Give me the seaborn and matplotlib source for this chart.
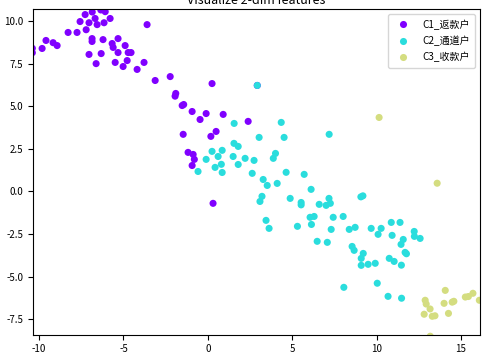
import matplotlib
matplotlib.use("Agg")
import matplotlib.pyplot as plt
import numpy as np
import pandas as pd
import seaborn as sns

labels = ['C1_返款户', 'C2_通道户', 'C3_收款户']
colors = ['#8000ff', '#2adddd', '#d4dd80']

c1_x = [-10.4, -10.4, -9.82, -9.59, -9.17, -8.93, -8.28, -7.75, -7.57, -7.27,
        -7.04, -6.85, -6.68, -6.56, -6.34, -6.15, -6.08, -5.79, -7.21, -6.86,
        -6.86, -6.21, -7.04, -6.32, -6.62, -5.67, -5.61, -5.32, -5.32, -4.90,
        -4.72, -4.55, -4.78, -5.49, -5.02, -4.19, -3.78, -3.60, -3.12, -2.23,
        -1.90, -1.94, -1.43, -1.52, -0.93, -0.10, -0.46, 0.91, 0.25, 2.93,
        2.39, -1.46, 0.49, 0.18, -1.17, -0.87, -0.80, -0.93, 0.31]
c1_y = [8.40, 8.14, 8.39, 8.86, 8.73, 8.56, 9.33, 9.33, 9.97, 10.38,
        9.90, 10.53, 10.15, 9.79, 10.65, 9.90, 10.55, 10.15, 9.49, 8.97,
        8.80, 8.91, 8.04, 8.09, 7.50, 8.68, 8.45, 8.97, 8.15, 8.56,
        8.15, 8.15, 7.68, 7.57, 7.33, 7.16, 7.57, 9.79, 6.51, 6.74,
        5.75, 5.59, 5.10, 5.04, 4.69, 4.57, 4.22, 4.52, 6.33, 6.22,
        4.11, 3.35, 3.52, 3.23, 2.29, 2.17, 1.88, 1.52, -0.70]

c2_x = [2.93, 1.56, 4.35, 3.04, 4.52, 7.19, 1.55, 1.80, 0.25, 0.85,
        0.61, -0.10, 1.50, 2.21, 2.74, 0.80, 1.80, 0.43, 0.85, -0.58,
        2.63, 4.01, 3.88, 4.64, 5.71, 3.28, 3.52, 4.11, 6.12, 4.88,
        3.21, 3.09, 5.53, 5.53, 6.60, 7.18, 7.01, 7.26, 9.07, 9.19,
        3.45, 3.63, 5.31, 6.06, 6.30, 6.14, 7.43, 8.02, 7.31, 6.48,
        7.08, 8.38, 8.73, 9.68, 10.27, 10.09, 10.87, 11.39, 10.92, 11.58,
        11.45, 12.23, 12.58, 12.24, 8.55, 8.67, 11.69, 11.77, 9.21, 9.09,
        9.09, 9.50, 9.92, 10.75, 11.04, 11.47, 8.06, 10.04, 10.68, 11.48]
c2_y = [6.22, 3.99, 4.05, 3.17, 3.17, 3.35, 2.82, 2.64, 2.35, 2.41,
        2.05, 1.88, 2.05, 1.94, 1.82, 1.59, 1.58, 1.41, 1.11, 1.17,
        1.06, 2.23, 1.94, 1.12, 1.00, 0.70, 0.35, 0.47, 0.12, -0.41,
        -0.29, -0.59, -0.65, -0.79, -0.76, -0.41, -0.82, -0.70, -0.32, -0.26,
        -1.70, -2.17, -2.05, -1.52, -1.47, -1.94, -1.52, -1.47, -2.23, -2.93,
        -2.99, -2.23, -2.11, -2.17, -2.17, -2.52, -1.82, -1.82, -2.58, -2.82,
        -3.11, -2.35, -2.76, -2.64, -3.23, -3.46, -3.58, -3.66, -3.64, -3.93,
        -4.34, -4.28, -4.22, -3.93, -4.11, -4.33, -5.63, -5.39, -6.16, -6.27]

c3_x = [10.15, 13.59, 14.07, 14.00, 14.48, 14.58, 14.26, 15.26, 15.44, 15.71,
        16.09, 12.88, 12.94, 13.17, 12.82, 13.30, 13.46, 13.18]
c3_y = [4.34, 0.48, -5.81, -6.57, -6.50, -6.45, -7.16, -6.20, -6.17, -5.98,
        -6.39, -6.39, -6.61, -6.90, -7.21, -7.33, -7.30, -8.50]

df = pd.DataFrame({
    'x': c1_x + c2_x + c3_x,
    'y': c1_y + c2_y + c3_y,
    'cls': [labels[0]] * len(c1_x) + [labels[1]] * len(c2_x) + [labels[2]] * len(c3_x),
})

plt.rcParams['font.family'] = ['Noto Sans CJK SC', 'DejaVu Sans']
plt.rcParams['axes.unicode_minus'] = False

fig = plt.figure(figsize=(4.86, 3.57), dpi=100)
ax = fig.add_axes([0.0679, 0.0625, 0.9198, 0.9115])

sns.scatterplot(data=df, x='x', y='y', hue='cls', hue_order=labels,
                palette=dict(zip(labels, colors)), s=26, linewidth=0, ax=ax)

ax.set_xlim(-10.36, 16.13)
ax.set_ylim(-8.41, 10.69)
ax.set_xticks([-10, -5, 0, 5, 10, 15])
ax.set_yticks([-7.5, -5.0, -2.5, 0.0, 2.5, 5.0, 7.5, 10.0])
ax.tick_params(labelsize=7)
ax.set_xlabel('')
ax.set_ylabel('')
ax.set_title('Visualize 2-dim features', fontsize=9, pad=4)

ax.legend(loc='upper right', fontsize=7.2, title=None, labelspacing=0.6,
          handletextpad=0.9, borderpad=0.5)

fig.savefig('out.png', dpi=100)
